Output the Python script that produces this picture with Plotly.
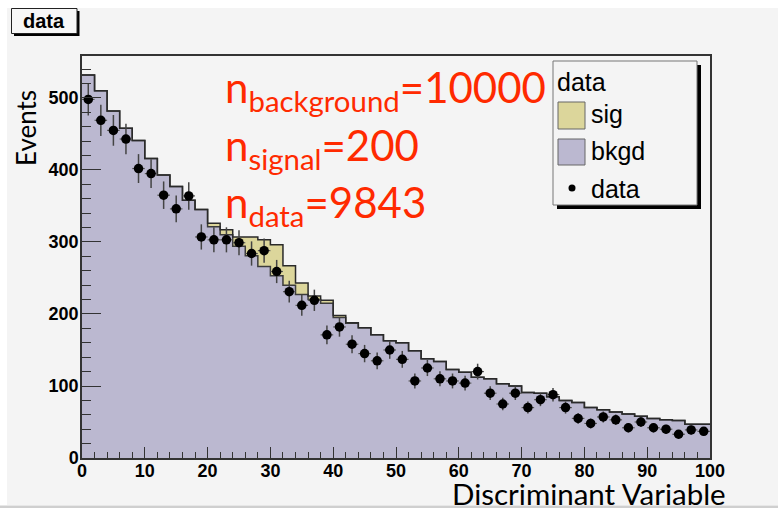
import numpy as np
import plotly.graph_objects as go

# ---- figure geometry (pixels) ----
W, H = 778, 508
L, R, T, B = 82, 68, 56, 50
PW, PH = W - L - R, H - T - B

# ---- histogram content: 50 bins of width 2 on [0, 100] ----
bin_edges = list(range(0, 101, 2))

bkgd = [532, 510, 482, 458, 441, 416, 393, 377, 358, 345,
        321, 310, 294, 281, 266, 253, 240, 227, 220, 215,
        195, 187, 181, 171, 163, 160, 149, 138, 134, 123,
        119, 112, 110, 103, 100, 91, 90, 85, 80, 77,
        70, 67, 64, 61, 58, 55, 53, 52, 47, 47]

sig = [0, 0, 0, 0, 0, 0, 0, 0, 0, 0,
       5, 7, 13, 26, 37, 43, 27, 16, 5, 4,
       3, 1, 0, 0, 0, 0, 0, 0, 0, 0,
       0, 0, 0, 0, 0, 0, 0, 0, 0, 0,
       0, 0, 0, 0, 0, 0, 0, 0, 0, 0]

data = [498, 469, 455, 443, 402, 395, 365, 346, 364, 307,
        303, 303, 299, 284, 288, 259, 231, 212, 219, 171,
        182, 158, 145, 135, 150, 137, 107, 125, 110, 107,
        104, 120, 90, 75, 90, 70, 81, 88, 70, 55,
        48, 57, 53, 42, 50, 42, 40, 33, 39, 37]

x_ticks = list(range(0, 101, 10))
y_ticks = list(range(0, 501, 100))

# ---- colours ----
BG = "#f4f4f4"
BKGD_FILL = "#bbb8d0"
SIG_FILL = "#dcd69b"
LINE = "#333333"
RED = "#ff2a00"


def px(x):
    """pixel column -> paper x"""
    return (x - L) / PW


def py(y):
    """pixel row -> paper y"""
    return (T + PH - y) / PH


centers = [(a + b) / 2 for a, b in zip(bin_edges[:-1], bin_edges[1:])]
total = [b + s for b, s in zip(bkgd, sig)]
bk_step = bkgd + [bkgd[-1]]
tot_step = total + [total[-1]]

fig = go.Figure()

# background stack layer
fig.add_trace(go.Scatter(
    x=bin_edges, y=bk_step, mode="lines",
    line=dict(shape="hv", color="#3c3c3c", width=1.5),
    fill="tozeroy", fillcolor=BKGD_FILL, name="bkgd", hoverinfo="skip"))
# signal stacked on top
fig.add_trace(go.Scatter(
    x=bin_edges, y=tot_step, mode="lines",
    line=dict(shape="hv", color="#2a2a2a", width=1.5),
    fill="tonexty", fillcolor=SIG_FILL, name="sig", hoverinfo="skip"))
# data points with Poisson errors
fig.add_trace(go.Scatter(
    x=centers, y=data, mode="markers",
    marker=dict(color="black", size=9.5),
    error_y=dict(type="data", array=np.sqrt(data), color="#444444",
                 thickness=1.5, width=0),
    error_x=dict(type="constant", value=1, color="#555555",
                 thickness=1.2, width=0),
    name="data"))

tick_font = dict(family="Liberation Sans, Arial", size=18, color="black",
                 weight="bold")

fig.update_xaxes(
    range=[0, 100], showgrid=False, zeroline=False,
    showline=True, linecolor=LINE, linewidth=1.5, mirror=True,
    ticks="inside", ticklen=11, tickwidth=1.2, tickcolor=LINE,
    tickvals=x_ticks, ticktext=[str(v) for v in x_ticks],
    tickfont=tick_font, ticklabelstandoff=-4,
    minor=dict(dtick=2, tick0=0, ticks="inside", ticklen=6,
               tickwidth=1, tickcolor=LINE, showgrid=False))
fig.update_yaxes(
    range=[0, 558.3], showgrid=False, zeroline=False,
    showline=True, linecolor=LINE, linewidth=1.5, mirror=True,
    ticks="inside", ticklen=19, tickwidth=1.2, tickcolor=LINE,
    tickvals=y_ticks, ticktext=[str(v) for v in y_ticks],
    tickfont=tick_font, ticklabelstandoff=-2,
    minor=dict(dtick=20, tick0=0, ticks="inside", ticklen=9,
               tickwidth=1, tickcolor=LINE, showgrid=False))

shapes = []
# canvas panel and its lower edge
shapes.append(dict(type="rect", xref="paper", yref="paper", layer="below",
                   x0=px(7), x1=px(W), y0=py(8), y1=py(505),
                   fillcolor=BG, line=dict(width=0)))
shapes.append(dict(type="rect", xref="paper", yref="paper", layer="below",
                   x0=px(0), x1=px(W), y0=py(505.5), y1=py(H),
                   fillcolor="#cfcfcf", line=dict(width=0)))

# title box with drop shadow
shapes.append(dict(type="rect", xref="paper", yref="paper",
                   x0=px(14), x1=px(79.5), y0=py(11), y1=py(36),
                   fillcolor="black", line=dict(width=0)))
shapes.append(dict(type="rect", xref="paper", yref="paper",
                   x0=px(11.5), x1=px(77), y0=py(8.5), y1=py(33.5),
                   fillcolor="#f7f7f7", line=dict(color="#222222", width=1)))

# legend box with drop shadow
shapes.append(dict(type="rect", xref="paper", yref="paper",
                   x0=px(557), x1=px(701), y0=py(65), y1=py(209),
                   fillcolor="black", line=dict(width=0)))
shapes.append(dict(type="rect", xref="paper", yref="paper",
                   x0=px(553), x1=px(697), y0=py(61), y1=py(205),
                   fillcolor=BG, line=dict(color="#777777", width=1)))
shapes.append(dict(type="rect", xref="paper", yref="paper",
                   x0=px(558), x1=px(585), y0=py(102), y1=py(129),
                   fillcolor=SIG_FILL, line=dict(color="#666666", width=1)))
shapes.append(dict(type="rect", xref="paper", yref="paper",
                   x0=px(558), x1=px(585), y0=py(139), y1=py(165),
                   fillcolor=BKGD_FILL, line=dict(color="#666666", width=1)))
shapes.append(dict(type="circle", xref="paper", yref="paper",
                   x0=px(568.5), x1=px(575.5), y0=py(184.5), y1=py(191.5),
                   fillcolor="black", line=dict(width=0)))

annotations = []


def text(x, y, s, size, family, color="black", xanchor="left",
         angle=0, weight="normal"):
    annotations.append(dict(
        x=px(x), y=py(y), xref="paper", yref="paper", text=s,
        showarrow=False, xanchor=xanchor, yanchor="middle",
        textangle=angle, borderpad=0,
        font=dict(size=size, family=family, color=color, weight=weight)))


SANS = "Liberation Sans, Arial"
CAL = "Lato, Open Sans"

text(44, 21, "data", 20, SANS, xanchor="center", weight="bold")

text(556, 82, "data", 25, SANS)
text(590, 114, "sig", 25, SANS)
text(590, 151, "bkgd", 25, SANS)
text(590, 189, "data", 25, SANS)

text(224, 90, "n<sub>background</sub>=10000", 42, CAL, color=RED)
text(224, 148, "n<sub>signal</sub>=200", 42, CAL, color=RED)
text(224, 205, "n<sub>data</sub>=9843", 42, CAL, color=RED)

text(727, 493, "Discriminant Variable", 29.5, CAL, xanchor="right")
text(26, 128, "Events", 26, CAL, xanchor="center", angle=-90)

fig.update_layout(
    width=W, height=H, margin=dict(l=L, r=R, t=T, b=B),
    paper_bgcolor="white", plot_bgcolor=BG,
    showlegend=False, shapes=shapes, annotations=annotations)

fig.write_html("out.html")
